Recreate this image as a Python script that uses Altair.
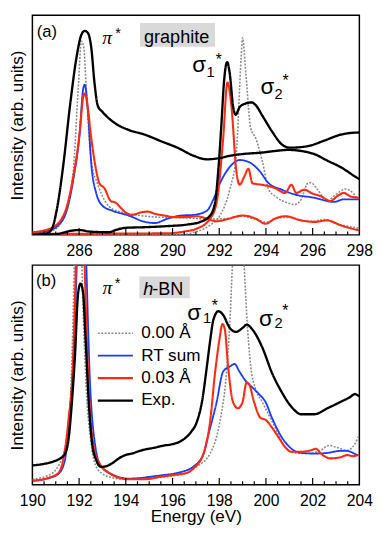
import altair as alt
import pandas as pd

FONT = "Liberation Sans"
SERIF = "Liberation Serif"

SERIES = ["0.00 Å", "RT sum", "0.03 Å", "Exp."]
COLORS = ["#8a8a8a", "#1a3cff", "#ff2a10", "#000000"]
DASHES = [[2, 1.5], [1, 0], [1, 0], [1, 0]]
WIDTHS = [1.6, 2.4, 2.0, 2.5]

# ---------------- panel (a) graphite ----------------
A_EXP_PI_E = [284.0, 284.4, 284.63, 284.84, 285.05, 285.33, 285.61, 285.89, 286.10, 286.24, 286.38, 286.52, 286.66, 286.80, 287.01, 287.56, 288.12, 288.82, 289.52, 290.21, 290.91, 291.47, 292.03, 292.45, 293.00, 293.84, 294.39, 294.95, 295.51, 296.07, 296.63, 297.19, 297.95, 298.0]
A_EXP_PI_I = [0.0, 0.003, 0.007, 0.029, 0.118, 0.324, 0.588, 0.809, 0.912, 0.929, 0.919, 0.853, 0.691, 0.588, 0.559, 0.507, 0.478, 0.456, 0.426, 0.397, 0.360, 0.344, 0.350, 0.360, 0.368, 0.375, 0.382, 0.387, 0.382, 0.368, 0.338, 0.309, 0.257, 0.254]

A_EXP_SIG_E = [284.0, 285.0, 285.33, 285.61, 286.03, 286.45, 287.29, 287.56, 287.98, 288.82, 289.79, 290.63, 291.19, 291.61, 291.82, 291.96, 292.10, 292.20, 292.34, 292.45, 292.59, 292.70, 292.87, 293.07, 293.39, 293.56, 293.84, 294.26, 294.68, 295.02, 295.79, 296.49, 297.19, 297.95, 298.0]
A_EXP_SIG_I = [0.0, 0.003, 0.010, 0.018, 0.022, 0.015, 0.012, 0.022, 0.032, 0.035, 0.040, 0.047, 0.059, 0.088, 0.147, 0.294, 0.515, 0.691, 0.787, 0.735, 0.588, 0.547, 0.581, 0.596, 0.603, 0.591, 0.544, 0.471, 0.412, 0.397, 0.404, 0.429, 0.456, 0.466, 0.466]

A_RED_PI_E = [284.0, 284.77, 285.33, 285.75, 286.03, 286.17, 286.24, 286.34, 286.52, 286.73, 286.87, 287.08, 287.36, 287.56, 287.77, 287.98, 288.26, 288.68, 288.96, 289.24, 289.66, 290.07, 290.63, 291.05, 291.47, 291.89, 292.31, 293.00, 293.56, 293.98, 294.39, 294.82, 295.51, 296.07, 296.63, 297.19, 297.95, 298.0]
A_RED_PI_I = [0.012, 0.029, 0.088, 0.265, 0.471, 0.625, 0.644, 0.603, 0.441, 0.294, 0.235, 0.213, 0.154, 0.147, 0.125, 0.103, 0.091, 0.103, 0.106, 0.096, 0.088, 0.081, 0.081, 0.085, 0.074, 0.062, 0.071, 0.088, 0.074, 0.051, 0.074, 0.085, 0.066, 0.059, 0.066, 0.044, 0.022, 0.021]

A_RED_SIG_E = [284.0, 289.66, 290.49, 291.05, 291.61, 291.89, 292.17, 292.35, 292.52, 292.73, 292.87, 293.07, 293.25, 293.42, 293.84, 294.39, 294.82, 295.09, 295.30, 295.65, 295.93, 296.35, 296.77, 297.05, 297.33, 297.60, 297.95, 298.0]
A_RED_SIG_I = [0.005, 0.007, 0.015, 0.029, 0.074, 0.147, 0.441, 0.694, 0.588, 0.294, 0.228, 0.265, 0.301, 0.235, 0.228, 0.213, 0.191, 0.228, 0.191, 0.206, 0.191, 0.176, 0.154, 0.176, 0.191, 0.176, 0.169, 0.168]

A_BLUE_E = [284.0, 284.77, 285.33, 285.75, 286.03, 286.17, 286.24, 286.38, 286.52, 286.73, 287.01, 287.42, 288.12, 288.82, 289.24, 289.79, 290.35, 290.91, 291.47, 291.75, 292.03, 292.45, 292.87, 293.28, 293.70, 294.12, 294.68, 295.23, 296.07, 296.91, 297.33, 297.95, 298.0]
A_BLUE_I = [0.007, 0.022, 0.074, 0.250, 0.471, 0.662, 0.684, 0.559, 0.324, 0.191, 0.132, 0.110, 0.088, 0.059, 0.054, 0.074, 0.088, 0.091, 0.110, 0.162, 0.235, 0.309, 0.341, 0.331, 0.294, 0.235, 0.206, 0.184, 0.169, 0.150, 0.162, 0.162, 0.162]

A_GRAY_PI_E = [284.0, 284.77, 285.33, 285.75, 285.96, 286.10, 286.20, 286.31, 286.45, 286.59, 286.73, 286.94, 287.15, 287.42, 288.0, 288.5, 289.5, 290.5, 291.5, 292.5, 293.0, 293.5, 294.0, 294.5, 295.0, 295.5, 296.0, 296.5, 297.0, 298.0]
A_GRAY_PI_I = [0.003, 0.015, 0.074, 0.294, 0.662, 0.882, 0.853, 0.662, 0.412, 0.294, 0.250, 0.191, 0.147, 0.118, 0.100, 0.090, 0.080, 0.078, 0.072, 0.076, 0.085, 0.072, 0.058, 0.076, 0.080, 0.066, 0.062, 0.070, 0.052, 0.030]

A_GRAY_SIG_E = [284.0, 290.35, 291.05, 291.61, 292.03, 292.45, 292.73, 292.94, 293.00, 293.14, 293.35, 293.56, 293.84, 294.12, 294.39, 294.82, 295.23, 295.51, 295.79, 295.93, 296.21, 296.63, 296.91, 297.19, 297.40, 297.75, 297.95, 298.0]
A_GRAY_SIG_I = [0.0, 0.003, 0.015, 0.044, 0.088, 0.206, 0.368, 0.809, 0.897, 0.735, 0.485, 0.441, 0.338, 0.206, 0.176, 0.150, 0.138, 0.162, 0.235, 0.238, 0.206, 0.154, 0.176, 0.199, 0.209, 0.188, 0.162, 0.160]

# ---------------- panel (b) h-BN ----------------
B_EXP_E = [190.0, 190.5, 190.91, 191.19, 191.40, 191.54, 191.68, 191.82, 191.96, 192.06, 192.17, 192.28, 192.42, 192.56, 192.73, 192.94, 193.15, 193.42, 193.70, 193.98, 194.26, 194.68, 195.24, 195.66, 195.93, 196.49, 196.77, 197.05, 197.26, 197.47, 197.61, 197.75, 197.96, 198.17, 198.45, 198.72, 199.00, 199.18, 199.42, 199.84, 200.26, 200.68, 201.09, 201.51, 202.07, 202.63, 203.19, 203.60, 203.81, 203.95, 204.0]
B_EXP_I = [0.088, 0.095, 0.106, 0.120, 0.142, 0.201, 0.360, 0.582, 0.875, 0.916, 0.875, 0.655, 0.362, 0.186, 0.113, 0.081, 0.084, 0.098, 0.120, 0.135, 0.142, 0.157, 0.169, 0.179, 0.183, 0.208, 0.237, 0.289, 0.377, 0.538, 0.655, 0.751, 0.790, 0.773, 0.714, 0.696, 0.714, 0.729, 0.707, 0.626, 0.509, 0.421, 0.355, 0.321, 0.321, 0.348, 0.377, 0.399, 0.413, 0.406, 0.405]

B_RED_E = [190.0, 190.70, 191.12, 191.33, 191.54, 191.75, 191.86, 192.05, 192.24, 192.31, 192.45, 192.66, 192.87, 193.28, 193.70, 194.12, 194.82, 195.52, 196.21, 196.63, 196.91, 197.33, 197.61, 197.82, 198.00, 198.14, 198.24, 198.38, 198.59, 198.80, 199.00, 199.17, 199.28, 199.49, 199.77, 199.98, 200.26, 200.54, 200.82, 201.09, 201.51, 201.93, 202.14, 202.35, 202.77, 203.19, 203.47, 203.74, 203.95, 204.0]
B_RED_I = [0.018, 0.032, 0.054, 0.120, 0.289, 0.582, 0.993, 1.8, 0.993, 0.729, 0.362, 0.157, 0.098, 0.054, 0.032, 0.025, 0.025, 0.037, 0.047, 0.054, 0.076, 0.142, 0.289, 0.509, 0.655, 0.732, 0.707, 0.538, 0.377, 0.348, 0.377, 0.465, 0.457, 0.377, 0.304, 0.296, 0.260, 0.216, 0.172, 0.150, 0.150, 0.157, 0.164, 0.142, 0.120, 0.125, 0.135, 0.130, 0.135, 0.135]

B_BLUE_E = [190.0, 190.70, 191.12, 191.40, 191.54, 191.75, 191.90, 192.10, 192.31, 192.45, 192.66, 192.94, 193.42, 194.12, 195.52, 196.21, 196.91, 197.33, 197.47, 197.89, 198.17, 198.45, 198.66, 198.86, 199.14, 199.42, 199.70, 199.98, 200.26, 200.68, 201.09, 201.51, 202.07, 202.63, 203.19, 203.47, 203.95, 204.0]
B_BLUE_I = [0.018, 0.030, 0.050, 0.115, 0.270, 0.560, 1.0, 1.8, 1.0, 0.509, 0.201, 0.084, 0.047, 0.028, 0.043, 0.054, 0.084, 0.142, 0.201, 0.377, 0.516, 0.538, 0.550, 0.516, 0.472, 0.443, 0.413, 0.377, 0.304, 0.216, 0.164, 0.145, 0.142, 0.145, 0.154, 0.154, 0.135, 0.134]

B_GRAY_E = [190.0, 190.77, 191.33, 191.61, 191.79, 191.95, 192.12, 192.30, 192.50, 192.70, 193.0, 193.5, 194.0, 195.0, 196.0, 196.5, 197.05, 197.61, 198.03, 198.31, 198.45, 198.56, 198.80, 199.07, 199.17, 199.35, 199.56, 199.84, 200.12, 200.40, 200.82, 201.23, 201.79, 202.35, 202.70, 203.05, 203.47, 203.81, 203.95, 204.0]
B_GRAY_I = [0.025, 0.047, 0.142, 0.362, 0.993, 2.0, 1.0, 0.45, 0.2, 0.09, 0.05, 0.03, 0.025, 0.03, 0.04, 0.05, 0.084, 0.142, 0.289, 0.509, 0.729, 0.993, 1.6, 0.993, 0.787, 0.538, 0.435, 0.377, 0.318, 0.260, 0.172, 0.145, 0.142, 0.157, 0.179, 0.169, 0.157, 0.186, 0.216, 0.225]

# tick labels and tick positions
A_LABELS = [286, 288, 290, 292, 294, 296, 298]
B_LABELS = [190, 192, 194, 196, 198, 200, 202, 204]
A_MAJOR = [286, 288, 290, 292, 294, 296]
A_MINOR = [284.5, 285, 285.5, 286.5, 287, 287.5, 288.5, 289, 289.5, 290.5, 291, 291.5, 292.5, 293, 293.5, 294.5, 295, 295.5, 296.5, 297, 297.5]
B_MAJOR = [192, 194, 196, 198, 200, 202]
B_MINOR = [190.5, 191, 191.5, 192.5, 193, 193.5, 194.5, 195, 195.5, 196.5, 197, 197.5, 198.5, 199, 199.5, 200.5, 201, 201.5, 202.5, 203, 203.5]


def curves_df(curves):
    rows = []
    for cid, (series, es, vs) in enumerate(curves):
        for e, v in zip(es, vs):
            rows.append({"curve": cid, "series": series, "energy": e, "intensity": v})
    return pd.DataFrame(rows)


DF_A = curves_df([
    ("0.00 Å", A_GRAY_PI_E, A_GRAY_PI_I),
    ("0.00 Å", A_GRAY_SIG_E, A_GRAY_SIG_I),
    ("RT sum", A_BLUE_E, A_BLUE_I),
    ("0.03 Å", A_RED_PI_E, A_RED_PI_I),
    ("0.03 Å", A_RED_SIG_E, A_RED_SIG_I),
    ("Exp.", A_EXP_PI_E, A_EXP_PI_I),
    ("Exp.", A_EXP_SIG_E, A_EXP_SIG_I),
])
DF_B = curves_df([
    ("0.00 Å", B_GRAY_E, B_GRAY_I),
    ("RT sum", B_BLUE_E, B_BLUE_I),
    ("0.03 Å", B_RED_E, B_RED_I),
    ("Exp.", B_EXP_E, B_EXP_I),
])

W = 335
ONE = alt.Data(values=[{}])


def note(text, e, v, size, font=FONT, style="normal"):
    return alt.Chart(ONE).mark_text(
        text=text, align="left", baseline="alphabetic", font=font,
        fontSize=size, fontStyle=style, color="black"
    ).encode(x=alt.datum(e), y=alt.datum(v))


def box(e1, e2, v1, v2):
    return alt.Chart(ONE).mark_rect(color="#d9d9d9").encode(
        x=alt.datum(e1), x2=alt.datum(e2), y=alt.datum(v1), y2=alt.datum(v2)
    )


def panel(df, dom, labels, major, minor, H, xtitle, legend, notes):
    X = alt.X("energy:Q", scale=alt.Scale(domain=dom, nice=False, zero=False),
              axis=alt.Axis(values=labels, title=xtitle, labelOverlap=False,
                            labelFlush=False, labelPadding=8, format="d",
                            titlePadding=0))
    Y = alt.Y("intensity:Q", scale=alt.Scale(domain=[0, 1], nice=False, zero=False),
              axis=alt.Axis(title="Intensity (arb. units)", labels=False, ticks=False,
                            domain=False, grid=False, titlePadding=6))
    lines = alt.Chart(df).mark_line(clip=True, interpolate="monotone").encode(
        x=X, y=Y,
        color=alt.Color("series:N", scale=alt.Scale(domain=SERIES, range=COLORS), legend=legend),
        strokeDash=alt.StrokeDash("series:N", scale=alt.Scale(domain=SERIES, range=DASHES), legend=legend),
        strokeWidth=alt.StrokeWidth("series:N", scale=alt.Scale(domain=SERIES, range=WIDTHS), legend=None),
        detail="curve:N",
    )
    tmaj = alt.Chart(pd.DataFrame({"energy": major})).mark_rule(color="black", strokeWidth=1.2).encode(
        x=X, y=alt.value(H), y2=alt.value(H - 7))
    tmin = alt.Chart(pd.DataFrame({"energy": minor})).mark_rule(color="black", strokeWidth=1.2).encode(
        x=X, y=alt.value(H), y2=alt.value(H - 3.5))
    return alt.layer(*notes, lines, tmaj, tmin).properties(width=W, height=H)


LEG = alt.Legend(orient="none", legendX=65.5, legendY=58.5, title=None,
                 labelFont=FONT, labelFontSize=17.5, labelColor="black",
                 symbolType="stroke", symbolSize=1296, symbolStrokeWidth=2.5,
                 labelOffset=7, rowPadding=0, clipHeight=22.5, padding=0)

notes_a = [
    box(288.61, 291.82, 0.857, 0.965),
    note("graphite", 288.78, 0.876, 18.5),
    note("(a)", 284.19, 0.900, 17),
    note("π", 286.99, 0.869, 20, SERIF, "italic"),
    note("*", 287.55, 0.895, 15),
    note("σ", 290.84, 0.743, 23),
    note("1", 291.45, 0.721, 15),
    note("*", 291.85, 0.772, 16),
    note("σ", 293.77, 0.640, 23),
    note("2", 294.37, 0.618, 15),
    note("*", 294.71, 0.677, 16),
]
notes_b = [
    box(194.58, 196.74, 0.849, 0.948),
    note("h", 194.75, 0.863, 18.5, FONT, "italic"),
    note("-BN", 195.13, 0.863, 18.5),
    note("(b)", 190.15, 0.904, 17),
    note("π", 193.00, 0.868, 20, SERIF, "italic"),
    note("*", 193.53, 0.895, 15),
    note("σ", 196.63, 0.750, 23),
    note("1", 197.30, 0.736, 15),
    note("*", 197.68, 0.789, 16),
    note("σ", 199.70, 0.721, 23),
    note("2", 200.37, 0.714, 15),
    note("*", 200.70, 0.767, 16),
]

pa = panel(DF_A, [284, 298], A_LABELS, A_MAJOR, A_MINOR, 225, None, None, notes_a)
pb = panel(DF_B, [190, 204], B_LABELS, B_MAJOR, B_MINOR, 225, "Energy (eV)", LEG, notes_b)

chart = alt.vconcat(pa, pb, spacing=31, bounds="flush").resolve_scale(
    color="independent", strokeDash="independent", strokeWidth="independent"
).resolve_legend(
    color="independent", strokeDash="independent"
).properties(padding=0, background="white").configure_view(
    stroke="black", strokeWidth=1.5
).configure_axis(
    labelFont=FONT, titleFont=FONT, labelFontSize=16, titleFontSize=17.5,
    labelColor="black", titleColor="black", titleFontWeight="normal",
    grid=False, domain=False, ticks=False
)

chart.save("out.html", embed_options={"renderer": "svg", "actions": False})
